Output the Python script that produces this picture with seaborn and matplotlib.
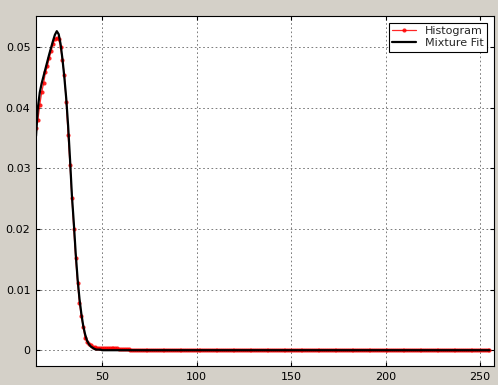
import numpy as np
import pandas as pd
import matplotlib
matplotlib.use("Agg")
import matplotlib.pyplot as plt
import seaborn as sns

# Histogram values (x = 15..65), tail beyond is ~0
hist_x = list(range(15, 256))
hist_head = [0.0366, 0.0380, 0.0405, 0.0425, 0.0440, 0.0458, 0.0468, 0.0482, 0.0493, 0.0505,
             0.0513, 0.0515, 0.0513, 0.0500, 0.0478, 0.0453, 0.0410, 0.0355, 0.0305, 0.0251,
             0.0200, 0.0152, 0.0111, 0.0078, 0.0056, 0.0038, 0.0020, 0.0014, 0.0010, 0.0008,
             0.0006, 0.0005, 0.0004, 0.0004, 0.0003, 0.0003, 0.0003, 0.0003, 0.0003, 0.0003,
             0.0003, 0.0003, 0.0003, 0.0003, 0.0002, 0.0002, 0.0002, 0.0002, 0.0002, 0.0002,
             0.0001]
hist_y = hist_head + [0.0] * (len(hist_x) - len(hist_head))

fit_x = list(range(15, 256))
fit_head = [0.0353, 0.0400, 0.0425, 0.0440, 0.0452, 0.0464, 0.0476, 0.0488, 0.0499, 0.0510,
            0.0520, 0.0526, 0.0521, 0.0505, 0.0480, 0.0450, 0.0415, 0.0370, 0.0315, 0.0255,
            0.0210, 0.0160, 0.0118, 0.0085, 0.0060, 0.0040, 0.0026, 0.0016, 0.0010, 0.0006,
            0.0004, 0.0002, 0.0001, 0.0001, 0.0001]
fit_y = fit_head + [0.0] * (len(fit_x) - len(fit_head))

x_ticks = [50, 100, 150, 200, 250]
y_ticks = [0, 0.01, 0.02, 0.03, 0.04, 0.05]
y_tick_labels = ["0", "0.01", "0.02", "0.03", "0.04", "0.05"]

sns.set_style("white")
plt.rcParams['font.family'] = ['DejaVu Sans']

fig = plt.figure(figsize=(4.98, 3.85), dpi=100, facecolor="#d4d0c8")
ax = fig.add_axes([0.0723, 0.0494, 0.9197, 0.9090])
ax.set_facecolor("white")

df_h = pd.DataFrame({"x": hist_x, "y": hist_y})
df_f = pd.DataFrame({"x": fit_x, "y": fit_y})

sns.lineplot(data=df_h, x="x", y="y", ax=ax, color="red", lw=0.9, marker=".",
             markersize=6, markeredgewidth=0, alpha=0.85, label="Histogram", zorder=3)
sns.lineplot(data=df_f, x="x", y="y", ax=ax, color="black", lw=1.6, label="Mixture Fit", zorder=4)

ax.set_xlim(15, 257.4)
ax.set_ylim(-0.0026, 0.0551)
ax.set_xticks(x_ticks)
ax.set_yticks(y_ticks)
ax.set_yticklabels(y_tick_labels)
ax.set_xlabel("")
ax.set_ylabel("")
ax.grid(True, color="#404040", linestyle=(0, (2, 3)), lw=0.6, alpha=0.8)
ax.tick_params(direction="in", length=3, labelsize=8, colors="black", pad=4,
               top=True, right=True, bottom=True, left=True)
for s in ax.spines.values():
    s.set_color("black")
    s.set_linewidth(0.8)

leg = ax.legend(loc="upper right", fontsize=8, frameon=True, fancybox=False,
                edgecolor="black", framealpha=1, borderpad=0.3, labelspacing=0.2,
                handlelength=2.2, borderaxespad=0.6)
leg.get_frame().set_linewidth(0.8)

fig.savefig("out.png", dpi=100, facecolor=fig.get_facecolor())
